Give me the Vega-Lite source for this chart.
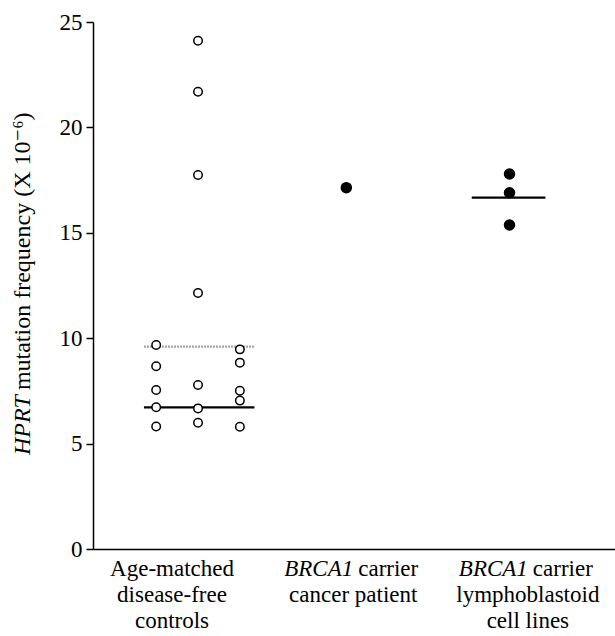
{
  "$schema": "https://vega.github.io/schema/vega-lite/v6.json",
  "width": 522,
  "height": 527,
  "autosize": {"type": "none"},
  "padding": {"left": 93, "top": 22, "right": 0, "bottom": 87},
  "background": "white",
  "config": {
    "view": {"stroke": null},
    "font": "Liberation Serif, DejaVu Serif, serif",
    "text": {"font": "Liberation Serif, DejaVu Serif, serif"},
    "axis": {"grid": false, "domainColor": "black", "tickColor": "black", "labelColor": "black", "domainWidth": 1.5, "tickWidth": 1.5, "labelFont": "Liberation Serif, DejaVu Serif, serif"}
  },
  "datasets": {
    "points": [
      {"group": "Age-matched disease-free controls", "pos": 0.733, "freq": 9.68, "carrier": "no"},
      {"group": "Age-matched disease-free controls", "pos": 0.733, "freq": 8.67, "carrier": "no"},
      {"group": "Age-matched disease-free controls", "pos": 0.733, "freq": 7.54, "carrier": "no"},
      {"group": "Age-matched disease-free controls", "pos": 0.733, "freq": 6.72, "carrier": "no"},
      {"group": "Age-matched disease-free controls", "pos": 0.733, "freq": 5.81, "carrier": "no"},
      {"group": "Age-matched disease-free controls", "pos": 1.0, "freq": 24.11, "carrier": "no"},
      {"group": "Age-matched disease-free controls", "pos": 1.0, "freq": 21.69, "carrier": "no"},
      {"group": "Age-matched disease-free controls", "pos": 1.0, "freq": 17.74, "carrier": "no"},
      {"group": "Age-matched disease-free controls", "pos": 1.0, "freq": 12.14, "carrier": "no"},
      {"group": "Age-matched disease-free controls", "pos": 1.0, "freq": 7.78, "carrier": "no"},
      {"group": "Age-matched disease-free controls", "pos": 1.0, "freq": 6.67, "carrier": "no"},
      {"group": "Age-matched disease-free controls", "pos": 1.0, "freq": 5.99, "carrier": "no"},
      {"group": "Age-matched disease-free controls", "pos": 1.267, "freq": 9.47, "carrier": "no"},
      {"group": "Age-matched disease-free controls", "pos": 1.267, "freq": 8.84, "carrier": "no"},
      {"group": "Age-matched disease-free controls", "pos": 1.267, "freq": 7.51, "carrier": "no"},
      {"group": "Age-matched disease-free controls", "pos": 1.267, "freq": 7.04, "carrier": "no"},
      {"group": "Age-matched disease-free controls", "pos": 1.267, "freq": 5.8, "carrier": "no"},
      {"group": "BRCA1 carrier cancer patient", "pos": 1.946, "freq": 17.14, "carrier": "yes"},
      {"group": "BRCA1 carrier lymphoblastoid cell lines", "pos": 2.987, "freq": 17.79, "carrier": "yes"},
      {"group": "BRCA1 carrier lymphoblastoid cell lines", "pos": 2.987, "freq": 16.9, "carrier": "yes"},
      {"group": "BRCA1 carrier lymphoblastoid cell lines", "pos": 2.987, "freq": 15.37, "carrier": "yes"}
    ],
    "lines": [
      {"kind": "mean", "x1": 0.655, "x2": 1.36, "freq": 9.6},
      {"kind": "median", "x1": 0.655, "x2": 1.36, "freq": 6.72},
      {"kind": "median", "x1": 2.746, "x2": 3.216, "freq": 16.67}
    ],
    "labels": [
      {"pos": 0.834, "lines": ["Age-matched", "disease-free", "controls"]},
      {"pos": 1.99, "lines": ["", "cancer patient"]},
      {"pos": 3.104, "lines": ["", "lymphoblastoid", "cell lines"]}
    ],
    "brca": [
      {"pos": 1.99, "gene": "BRCA1", "rest": "carrier"},
      {"pos": 3.104, "gene": "BRCA1", "rest": "carrier"}
    ],
    "ytitle": [
      {"freq": 7.3, "gene": "HPRT", "rest": "mutation frequency (X 10⁻⁶)"}
    ]
  },
  "layer": [
    {
      "mark": {"type": "rule", "color": "black", "strokeWidth": 1.5},
      "encoding": {"y": {"datum": 25, "type": "quantitative", "scale": {"domain": [0, 25]}}}
    },
    {
      "data": {"name": "lines"},
      "mark": {"type": "rule", "strokeWidth": 2.2},
      "encoding": {
        "x": {"field": "x1", "type": "quantitative", "scale": {"domain": [0.33, 3.66], "nice": false, "zero": false}, "axis": {"ticks": false, "labels": false, "title": null, "domain": true}},
        "x2": {"field": "x2"},
        "y": {"field": "freq", "type": "quantitative", "scale": {"domain": [0, 25], "nice": false}, "axis": {"values": [0, 5, 10, 15, 20, 25], "tickSize": 7, "labelFontSize": 23, "labelPadding": 4, "title": null}},
        "color": {"field": "kind", "type": "nominal", "scale": {"domain": ["mean", "median"], "range": ["#a3a3a3", "#000000"]}, "legend": null},
        "strokeDash": {"field": "kind", "type": "nominal", "scale": {"domain": ["mean", "median"], "range": [[2, 1], [1, 0]]}, "legend": null}
      }
    },
    {
      "data": {"name": "points"},
      "mark": {"type": "point", "shape": "circle", "strokeWidth": 1.5, "opacity": 1},
      "encoding": {
        "x": {"field": "pos", "type": "quantitative"},
        "y": {"field": "freq", "type": "quantitative"},
        "fill": {"field": "carrier", "type": "nominal", "scale": {"domain": ["no", "yes"], "range": ["white", "black"]}, "legend": null},
        "stroke": {"value": "black"},
        "size": {"field": "carrier", "type": "nominal", "scale": {"domain": ["no", "yes"], "range": [72, 100]}, "legend": null}
      }
    },
    {
      "data": {"name": "labels"},
      "mark": {"type": "text", "align": "center", "baseline": "top", "dy": 9, "fontSize": 23, "lineHeight": 26, "color": "black"},
      "encoding": {
        "x": {"field": "pos", "type": "quantitative"},
        "y": {"datum": 0, "type": "quantitative"},
        "text": {"field": "lines"}
      }
    },
    {
      "data": {"name": "brca"},
      "mark": {"type": "text", "align": "right", "baseline": "top", "dy": 9, "fontSize": 23, "fontStyle": "italic", "color": "black"},
      "encoding": {
        "x": {"field": "pos", "type": "quantitative"},
        "y": {"datum": 0, "type": "quantitative"},
        "text": {"field": "gene"}
      }
    },
    {
      "data": {"name": "brca"},
      "mark": {"type": "text", "align": "left", "baseline": "top", "dy": 9, "dx": 5, "fontSize": 23, "color": "black"},
      "encoding": {
        "x": {"field": "pos", "type": "quantitative"},
        "y": {"datum": 0, "type": "quantitative"},
        "text": {"field": "rest"}
      }
    },
    {
      "data": {"name": "ytitle"},
      "mark": {"type": "text", "align": "right", "baseline": "middle", "angle": 270, "dy": -70, "fontSize": 24, "fontStyle": "italic", "color": "black"},
      "encoding": {
        "x": {"datum": 0.33, "type": "quantitative"},
        "y": {"field": "freq", "type": "quantitative"},
        "text": {"field": "gene"}
      }
    },
    {
      "data": {"name": "ytitle"},
      "mark": {"type": "text", "align": "left", "baseline": "middle", "angle": 270, "dy": -70, "dx": 5, "fontSize": 24, "color": "black"},
      "encoding": {
        "x": {"datum": 0.33, "type": "quantitative"},
        "y": {"field": "freq", "type": "quantitative"},
        "text": {"field": "rest"}
      }
    }
  ]
}
